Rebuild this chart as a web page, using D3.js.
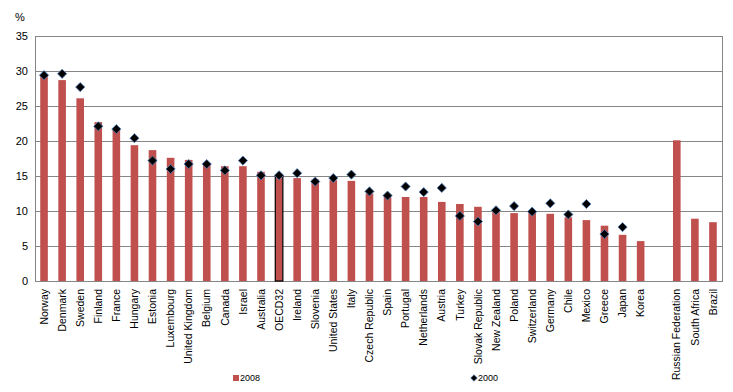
<!DOCTYPE html>
<html><head><meta charset="utf-8">
<script src="https://cdn.jsdelivr.net/npm/d3@7"></script>
<style>body{margin:0;background:#fff}svg{display:block}text{font-family:"Liberation Sans",Arial,sans-serif;fill:#000}</style>
</head><body>
<svg id="c" width="733" height="392"></svg>
<script>
const categories = ["Norway","Denmark","Sweden","Finland","France","Hungary","Estonia","Luxembourg","United Kingdom","Belgium","Canada","Israel","Australia","OECD32","Ireland","Slovenia","United States","Italy","Czech Republic","Spain","Portugal","Netherlands","Austria","Turkey","Slovak Republic","New Zealand","Poland","Switzerland","Germany","Chile","Mexico","Greece","Japan","Korea","","Russian Federation","South Africa","Brazil"];
const values2008 = [29.3,28.7,26.1,22.7,21.6,19.4,18.7,17.6,17.3,16.8,16.4,16.4,15.6,15.0,14.7,14.5,14.4,14.3,12.5,12.0,12.0,12.0,11.3,11.0,10.6,10.1,9.7,9.8,9.6,9.1,8.7,7.9,6.6,5.7,null,20.1,8.9,8.4];
const values2000 = [29.4,29.6,27.7,22.1,21.7,20.4,17.2,16.0,16.7,16.7,15.8,17.2,15.1,15.1,15.4,14.2,14.7,15.2,12.8,12.2,13.5,12.7,13.3,9.3,8.5,10.1,10.7,9.9,11.1,9.5,11.0,6.7,7.7,null,null,null,null,null];
const yTicks = [0,5,10,15,20,25,30,35];

const svg = d3.select("#c");
const L=35, R=722, T=36, B=281;
const x = d3.scaleBand().domain(d3.range(categories.length)).range([L,R]).paddingInner(0.58).paddingOuter(0.29);
const y = d3.scaleLinear().domain([0,35]).range([B,T]);

svg.append("g").selectAll("line").data(yTicks).join("line")
  .attr("x1",L).attr("x2",R).attr("y1",d=>y(d)+0.5).attr("y2",d=>y(d)+0.5)
  .attr("stroke","#868686").attr("stroke-width",1);
svg.append("rect").attr("x",L+0.5).attr("y",T+0.5).attr("width",R-L).attr("height",B-T)
  .attr("fill","none").attr("stroke","#868686");

svg.append("g").selectAll("rect").data(values2008.map((v,i)=>({v,i})).filter(d=>d.v!=null)).join("rect")
  .attr("x",d=>x(d.i)).attr("width",x.bandwidth())
  .attr("y",d=>y(d.v)).attr("height",d=>B-y(d.v))
  .attr("fill","#C0504D")
  .attr("stroke",d=>categories[d.i]==="OECD32"?"#000":"none").attr("stroke-width",1.2);

const diamond = r => `M0,${-r}L${r},0L0,${r}L${-r},0Z`;
svg.append("g").selectAll("path").data(values2000.map((v,i)=>({v,i})).filter(d=>d.v!=null)).join("path")
  .attr("d",diamond(4.6))
  .attr("transform",d=>`translate(${x(d.i)+x.bandwidth()/2},${y(d.v)})`)
  .attr("fill","#000").attr("stroke","#4F81BD").attr("stroke-width",0.8);

const ya = d3.axisLeft(y).tickValues(yTicks).tickSize(0).tickPadding(7);
const yg = svg.append("g").attr("transform",`translate(${L},0)`).call(ya);
yg.select(".domain").remove();
yg.selectAll("text").style("font-size","11px").attr("fill","#000");
svg.append("text").attr("x",15).attr("y",21).style("font-size","11px").text("%");

const xa = d3.axisBottom(x).tickFormat(i=>categories[i]).tickSize(0);
const xg = svg.append("g").attr("transform",`translate(0,${B})`).call(xa);
xg.select(".domain").remove();
xg.selectAll("text").style("font-size","10.5px").attr("fill","#000")
  .attr("transform","rotate(-90)").attr("text-anchor","end").attr("dy","0.35em").attr("x",-8).attr("y",0);

svg.append("rect").attr("x",233).attr("y",375).attr("width",6).attr("height",6).attr("fill","#C0504D");
svg.append("text").attr("x",240).attr("y",381).style("font-size","9px").text("2008");
svg.append("path").attr("d",diamond(3.3)).attr("transform","translate(474,378)").attr("fill","#000").attr("stroke","#4F81BD").attr("stroke-width",0.6);
svg.append("text").attr("x",478).attr("y",381).style("font-size","9px").text("2000");
</script>
</body></html>
